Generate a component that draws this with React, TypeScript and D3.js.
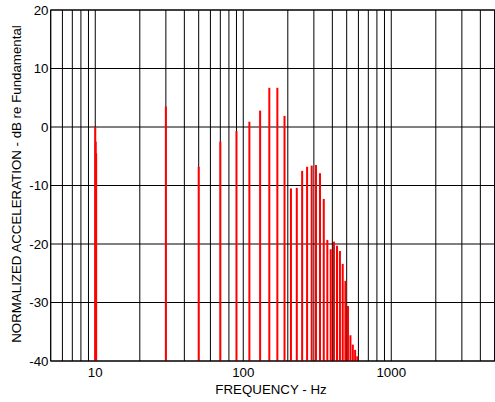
import React from "react";
import * as d3 from "d3";

const W = 495;
const H = 402;

// harmonic frequencies (Hz) and normalized levels (dB re fundamental)
const freqs = [10, 10.07, 10.14, 30, 50, 70, 90, 110, 130, 150, 170, 190, 210, 230, 250, 270, 290, 310, 330, 350, 370, 390, 410, 430, 450, 470, 490, 510, 530, 550, 570, 590];
const levels = [0, -2.5, -4.5, 3.5, -6.8, -2.5, -0.7, 0.9, 2.8, 6.7, 6.7, 1.9, -10.5, -10.4, -7.5, -6.8, -6.6, -6.5, -7.9, -12.3, -19.3, -20.9, -19.6, -20.3, -21.2, -23.4, -26.3, -30.6, -35.6, -37.2, -38.1, -39.2];

const xTickLabels = [10, 100, 1000];
const yTicks = [-40, -30, -20, -10, 0, 10, 20];
const xDomain = [5, 5000];
const yDomain = [-40, 20];

const FONT = "'Liberation Sans', Arial, Helvetica, sans-serif";

export default function App() {
  const left = 50.7, right = 494.7, top = 10, bottom = 361;
  const x = d3.scaleLog().domain(xDomain).range([left, right]);
  const y = d3.scaleLinear().domain(yDomain).range([bottom, top]);

  const gridX: number[] = [];
  for (let dec = 1; dec <= 1000; dec *= 10) {
    for (let m = 1; m <= 9; m++) {
      const v = m * dec;
      if (v >= xDomain[0] && v <= xDomain[1]) gridX.push(v);
    }
  }

  return (
    <svg width={W} height={H} style={{ position: "absolute", left: 0, top: 0, background: "#fff" }}>
      <rect x={0} y={0} width={W} height={H} fill="#fff" />
      {gridX.map((v) => (
        <line key={"gx" + v} x1={x(v)} x2={x(v)} y1={top} y2={bottom} stroke="#000" strokeWidth={1} />
      ))}
      {yTicks.map((v) => (
        <line key={"gy" + v} x1={left} x2={right} y1={y(v)} y2={y(v)} stroke="#000" strokeWidth={1} />
      ))}
      {freqs.map((f, i) => (
        <rect key={"b" + i} x={x(f) - 1} width={2} y={y(levels[i])} height={bottom - y(levels[i])} fill="#ff0000" />
      ))}
      <rect x={left} y={top} width={right - left} height={bottom - top} fill="none" stroke="#000" strokeWidth={1} />
      {yTicks.map((v) => (
        <text key={"ty" + v} x={48.5} y={y(v)} dy="0.35em" textAnchor="end" fontFamily={FONT} fontSize={13.3} fill="#000">
          {v}
        </text>
      ))}
      {xTickLabels.map((v) => (
        <text key={"tx" + v} x={x(v)} y={377} textAnchor="middle" fontFamily={FONT} fontSize={13.3} fill="#000">
          {v}
        </text>
      ))}
      <text x={271} y={393.5} textAnchor="middle" fontFamily={FONT} fontSize={13.3} fill="#000">
        FREQUENCY - Hz
      </text>
      <text transform={`translate(21,184) rotate(-90)`} textAnchor="middle" fontFamily={FONT} fontSize={13.3} fill="#000">
        NORMALIZED ACCELERATION - dB re Fundamental
      </text>
    </svg>
  );
}
